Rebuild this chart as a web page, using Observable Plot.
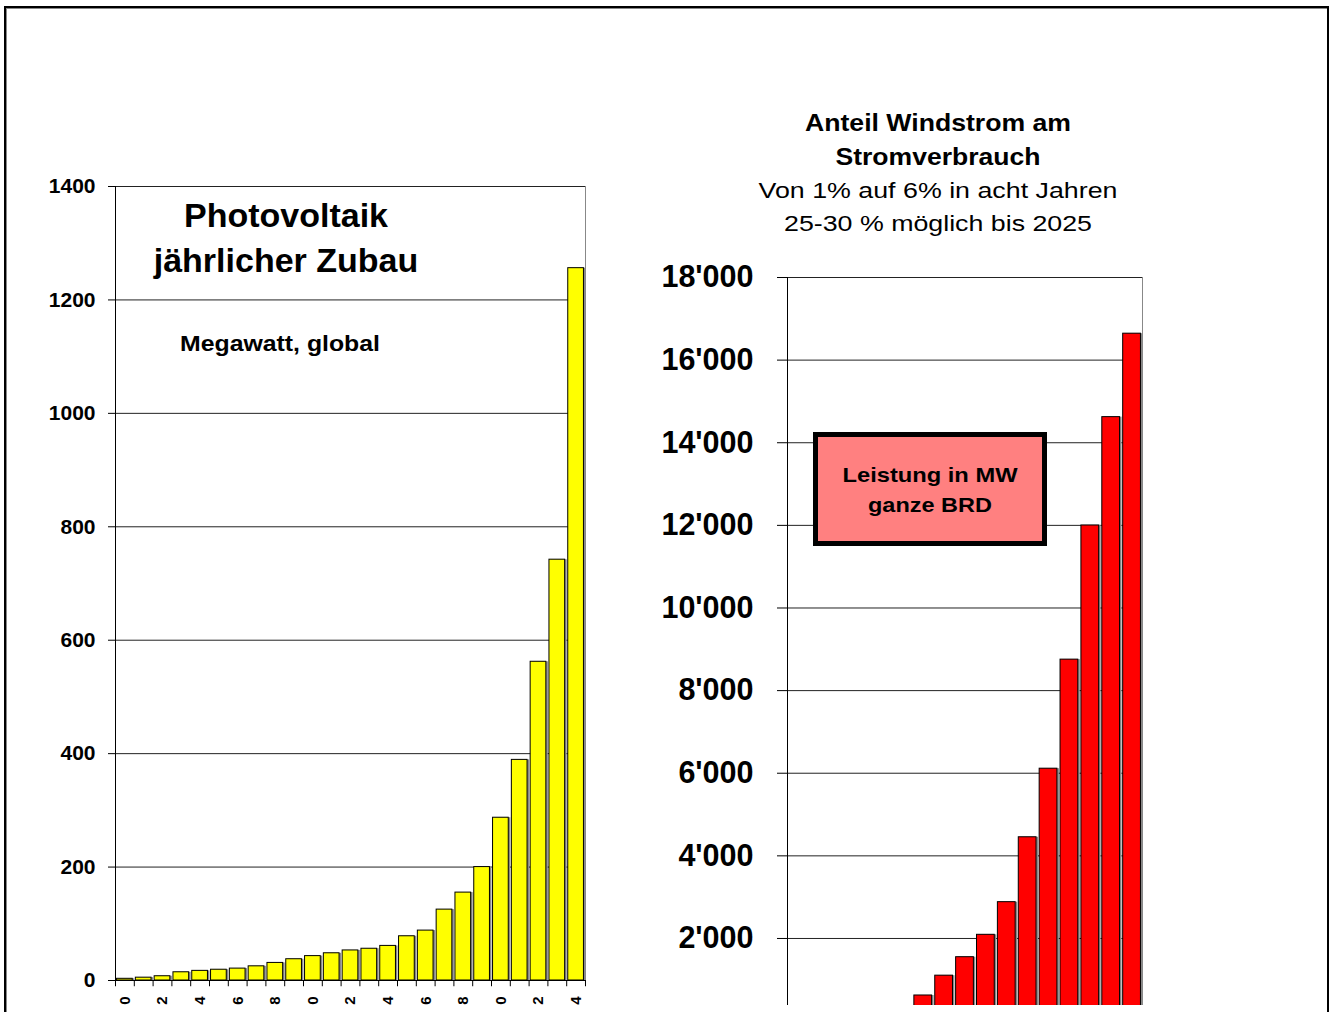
<!DOCTYPE html>
<html><head><meta charset="utf-8">
<script src="https://cdn.jsdelivr.net/npm/d3@7"></script>
<script src="https://cdn.jsdelivr.net/npm/@observablehq/plot@0.6"></script>
<style>
html,body{margin:0;padding:0;background:#fff;width:1332px;height:1012px;overflow:hidden;}
#page{position:relative;width:1332px;height:1012px;font-family:"Liberation Sans",Arial,sans-serif;}
#border{position:absolute;left:4px;top:6px;width:1321px;height:1100px;border:2px solid #000;box-shadow:inset 1px 1px 0 #888;}
.clip{position:absolute;top:0;height:1005px;overflow:hidden;}
#overlay{position:absolute;left:0;top:0;font-family:"Liberation Sans",Arial,sans-serif;}
</style></head>
<body>
<div id="page">
  <div id="border"></div>
  <div class="clip" id="left" style="left:0;width:600px"></div>
  <div class="clip" id="right" style="left:600px;width:732px"></div>
  <svg id="overlay" width="1332" height="1012">
    <g font-weight="bold" fill="#000">
      <text x="286" y="227" text-anchor="middle" font-size="34">Photovoltaik</text>
      <text x="286" y="272" text-anchor="middle" font-size="34">jährlicher Zubau</text>
      <text x="180" y="351" font-size="22" textLength="200" lengthAdjust="spacingAndGlyphs">Megawatt, global</text>
      <text x="938" y="131" text-anchor="middle" font-size="24.5" textLength="266" lengthAdjust="spacingAndGlyphs">Anteil Windstrom am</text>
      <text x="938" y="165" text-anchor="middle" font-size="24.5" textLength="205" lengthAdjust="spacingAndGlyphs">Stromverbrauch</text>
    </g>
    <g fill="#000">
      <text x="938" y="198" text-anchor="middle" font-size="22.5" textLength="359" lengthAdjust="spacingAndGlyphs">Von 1% auf 6% in acht Jahren</text>
      <text x="938" y="231" text-anchor="middle" font-size="22.5" textLength="308" lengthAdjust="spacingAndGlyphs">25-30 % möglich bis 2025</text>
    </g>
    <rect x="815.5" y="434.5" width="229" height="109" fill="#ff8080" stroke="#000" stroke-width="5"/>
    <g font-weight="bold" fill="#000">
      <text x="930" y="482" text-anchor="middle" font-size="21" textLength="175" lengthAdjust="spacingAndGlyphs">Leistung in MW</text>
      <text x="930" y="512" text-anchor="middle" font-size="21" textLength="124" lengthAdjust="spacingAndGlyphs">ganze BRD</text>
    </g>
  </svg>
</div>
<script>
// Photovoltaik, jährlicher Zubau (MW, global)
const pvYears = [1980,1981,1982,1983,1984,1985,1986,1987,1988,1989,1990,1991,1992,1993,1994,1995,1996,1997,1998,1999,2000,2001,2002,2003,2004];
const pvValues = [3,5,7.5,14.5,17,19,21,25,31,37.5,43,48,53,56,61,78,88,125,155,200,287,389,562,742,1256];
const pvTicks = [0,200,400,600,800,1000,1200,1400];
const pvLabelYears = [1980,1982,1984,1986,1988,1990,1992,1994,1996,1998,2000,2002,2004];

// Windkraft Leistung in MW, ganze BRD
const windYears = [1988,1989,1990,1991,1992,1993,1994,1995,1996,1997,1998,1999,2000,2001,2002,2003,2004];
const windValues = [20,27,55,106,174,326,620,1100,1547,2089,2879,4450,6110,8750,11997,14620,16640];
const windTicks = [0,2000,4000,6000,8000,10000,12000,14000,16000,18000];

const font = '"Liberation Sans", Arial, sans-serif';
const pvData = pvYears.map((year, i) => ({year, value: pvValues[i]}));
const windData = windYears.map((year, i) => ({year, value: windValues[i]}));

const lw = 470, stepL = lw / pvYears.length;
const left = Plot.plot({
  width: 600, height: 1040,
  marginLeft: 115, marginRight: 15, marginTop: 186, marginBottom: 60,
  style: {fontFamily: font, fontWeight: "bold", color: "#000", background: "transparent", overflow: "visible"},
  x: {type: "band", domain: pvYears, paddingInner: 0.165, paddingOuter: 0.0825, round: false},
  y: {domain: [0, 1400]},
  marks: [
    Plot.frame({stroke: "#888"}),
    Plot.ruleY(pvTicks, {stroke: "#222"}),
    Plot.barY(pvData, {x: "year", y: "value", fill: "#8a8a8a", dx: 2}),
    Plot.barY(pvData, {x: "year", y: "value", fill: "#ffff00", stroke: "#000", strokeWidth: 1}),
    Plot.ruleX(pvYears, {x: d => d, dx: -stepL / 2, y1: 0, y2: -11, stroke: "#000"}),
    Plot.ruleX([pvYears[pvYears.length - 1]], {x: d => d, dx: stepL / 2, y1: 0, y2: -11, stroke: "#000"}),
    Plot.ruleX([pvYears[0]], {x: d => d, dx: -stepL / 2, stroke: "#000"}),
    Plot.ruleY([0], {stroke: "#000"}),
    Plot.axisY({ticks: pvTicks, tickSize: 7, tickPadding: 13, fontSize: 21, tickFormat: d => String(d), label: null}),
    Plot.axisX({ticks: pvLabelYears, tickSize: 0, tickRotate: -90, tickPadding: 16, fontSize: 15, tickFormat: d => String(d), label: null})
  ]
});
document.getElementById("left").appendChild(left);

const rw = 355, stepR = rw / windYears.length;
const right = Plot.plot({
  width: 732, height: 1040,
  marginLeft: 187, marginRight: 190, marginTop: 277, marginBottom: 19.4,
  style: {fontFamily: font, fontWeight: "bold", color: "#000", background: "transparent", overflow: "visible"},
  x: {type: "band", domain: windYears, paddingInner: 0.15, paddingOuter: 0.075, round: false},
  y: {domain: [0, 18000]},
  marks: [
    Plot.frame({stroke: "#888"}),
    Plot.ruleY(windTicks, {stroke: "#222"}),
    Plot.barY(windData, {x: "year", y: "value", fill: "#8a8a8a", dx: 2}),
    Plot.barY(windData, {x: "year", y: "value", fill: "#ff0000", stroke: "#000", strokeWidth: 1}),
    Plot.ruleX([windYears[0]], {x: d => d, dx: -stepR / 2, stroke: "#000"}),
    Plot.axisY({ticks: windTicks, tickSize: 10, tickPadding: 24, fontSize: 30.5,
      tickFormat: d => d3.format(",")(d).replace(/,/g, "'"), label: null}),
    Plot.axisX({ticks: windYears, tickSize: 0, tickRotate: -90, tickPadding: 16, fontSize: 15, tickFormat: d => String(d), label: null})
  ]
});
document.getElementById("right").appendChild(right);
</script>
</body></html>
